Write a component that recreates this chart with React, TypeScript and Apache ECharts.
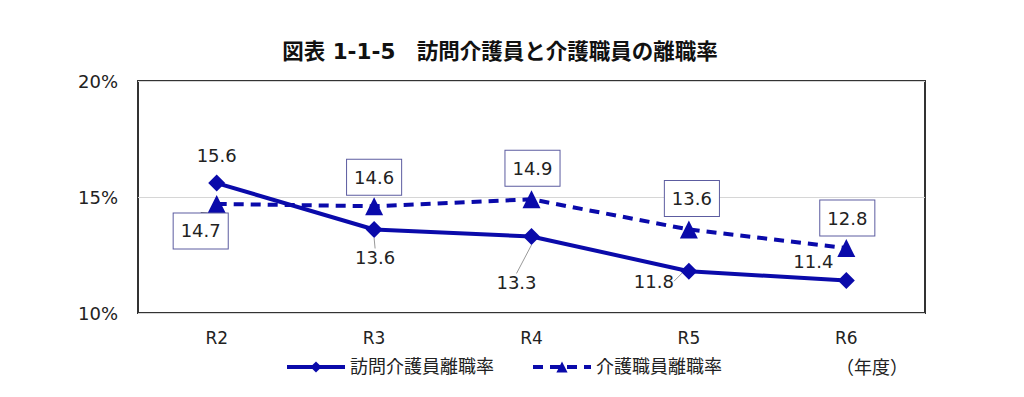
import React, { useEffect, useRef } from "react";
import * as echarts from "echarts";

const categories = ["R2", "R3", "R4", "R5", "R6"];
const homeCareRate = [15.6, 13.6, 13.3, 11.8, 11.4];
const careWorkerRate = [14.7, 14.6, 14.9, 13.6, 12.8];
const yTicks = { min: 10, max: 20, interval: 5 };

const FONT = "'DejaVu Sans', 'Noto Sans CJK JP', sans-serif";
const BLUE = "#0a0aaa";

// label offsets (px) relative to each point, and whether a leader line is drawn
const offsetsA = [
  [0, -28, false],
  [1, 28, true],
  [-15, 46, true],
  [-35, 10, true],
  [-33, -19, false],
];
const offsetsB = [
  [-16, 27, true],
  [0, -29, false],
  [1, -31, false],
  [3, -31, false],
  [1, -30, false],
];

export default function App() {
  const ref = useRef<HTMLDivElement>(null);
  useEffect(() => {
    const chart = echarts.init(ref.current!, null, { renderer: "svg" });
    const labelBase = {
      show: true,
      position: "inside",
      fontFamily: FONT,
      fontSize: 18,
      color: "#222",
    };
    chart.setOption({
      animation: false,
      backgroundColor: "#fff",
      title: {
        text: "図表 1-1-5　訪問介護員と介護職員の離職率",
        left: 495,
        textAlign: "center",
        top: 36,
        textStyle: { fontFamily: FONT, fontSize: 21.5, fontWeight: "bold", color: "#111" },
      },
      grid: {
        left: 138,
        right: 99,
        top: 81,
        bottom: 84,
        show: true,
        borderColor: "#333",
        borderWidth: 2,
        backgroundColor: "transparent",
      },
      legend: {
        left: 285,
        top: 358,
        padding: 0,
        itemWidth: 58,
        itemHeight: 14,
        itemGap: 37,
        lineStyle: { width: 4 },
        textStyle: { fontFamily: FONT, fontSize: 18, color: "#222" },
        data: ["訪問介護員離職率", "介護職員離職率"],
      },
      xAxis: {
        type: "category",
        data: categories,
        axisLine: { show: false },
        axisTick: { show: false },
        axisLabel: { fontFamily: FONT, fontSize: 17, color: "#222", margin: 16 },
      },
      yAxis: {
        type: "value",
        min: yTicks.min,
        max: yTicks.max,
        interval: yTicks.interval,
        axisLine: { show: false },
        axisTick: { show: false },
        axisLabel: { formatter: "{value}%", fontFamily: FONT, fontSize: 18, color: "#222", margin: 20 },
        splitLine: { lineStyle: { color: "#d6d6d6", width: 1 } },
      },
      graphic: [
        {
          type: "text",
          left: 836,
          top: 358,
          style: { text: "（年度）", font: `18px ${FONT}`, fill: "#222" },
        },
      ],
      series: [
        {
          name: "訪問介護員離職率",
          type: "line",
          data: homeCareRate.map((v, i) => ({
            value: v,
            labelLine: { show: offsetsA[i][2] as boolean },
          })),
          symbol: "diamond",
          symbolSize: 17,
          lineStyle: { color: BLUE, width: 4 },
          itemStyle: { color: BLUE },
          label: { ...labelBase, formatter: (p: any) => p.value.toFixed(1) },
          labelLine: { show: true, lineStyle: { color: "#999", width: 1 } },
          labelLayout: (p: any) => ({ dx: offsetsA[p.dataIndex][0], dy: offsetsA[p.dataIndex][1] }),
          z: 3,
        },
        {
          name: "介護職員離職率",
          type: "line",
          data: careWorkerRate.map((v, i) => ({
            value: v,
            labelLine: { show: offsetsB[i][2] as boolean },
          })),
          symbol: "triangle",
          symbolSize: 18,
          lineStyle: { color: BLUE, width: 4, type: [10, 7] },
          itemStyle: { color: BLUE },
          label: {
            ...labelBase,
            formatter: (p: any) => p.value.toFixed(1),
            backgroundColor: "#fff",
            borderColor: "#5c5ca0",
            borderWidth: 1,
            lineHeight: 20,
            padding: [8, 7, 7, 7],
          },
          labelLine: { show: true, lineStyle: { color: "#666", width: 1 } },
          labelLayout: (p: any) => ({ dx: offsetsB[p.dataIndex][0], dy: offsetsB[p.dataIndex][1] }),
          z: 2,
        },
      ],
    });
    return () => chart.dispose();
  }, []);
  return (
    <div
      ref={ref}
      style={{ position: "fixed", left: 0, top: 0, width: 1024, height: 397 }}
    />
  );
}
